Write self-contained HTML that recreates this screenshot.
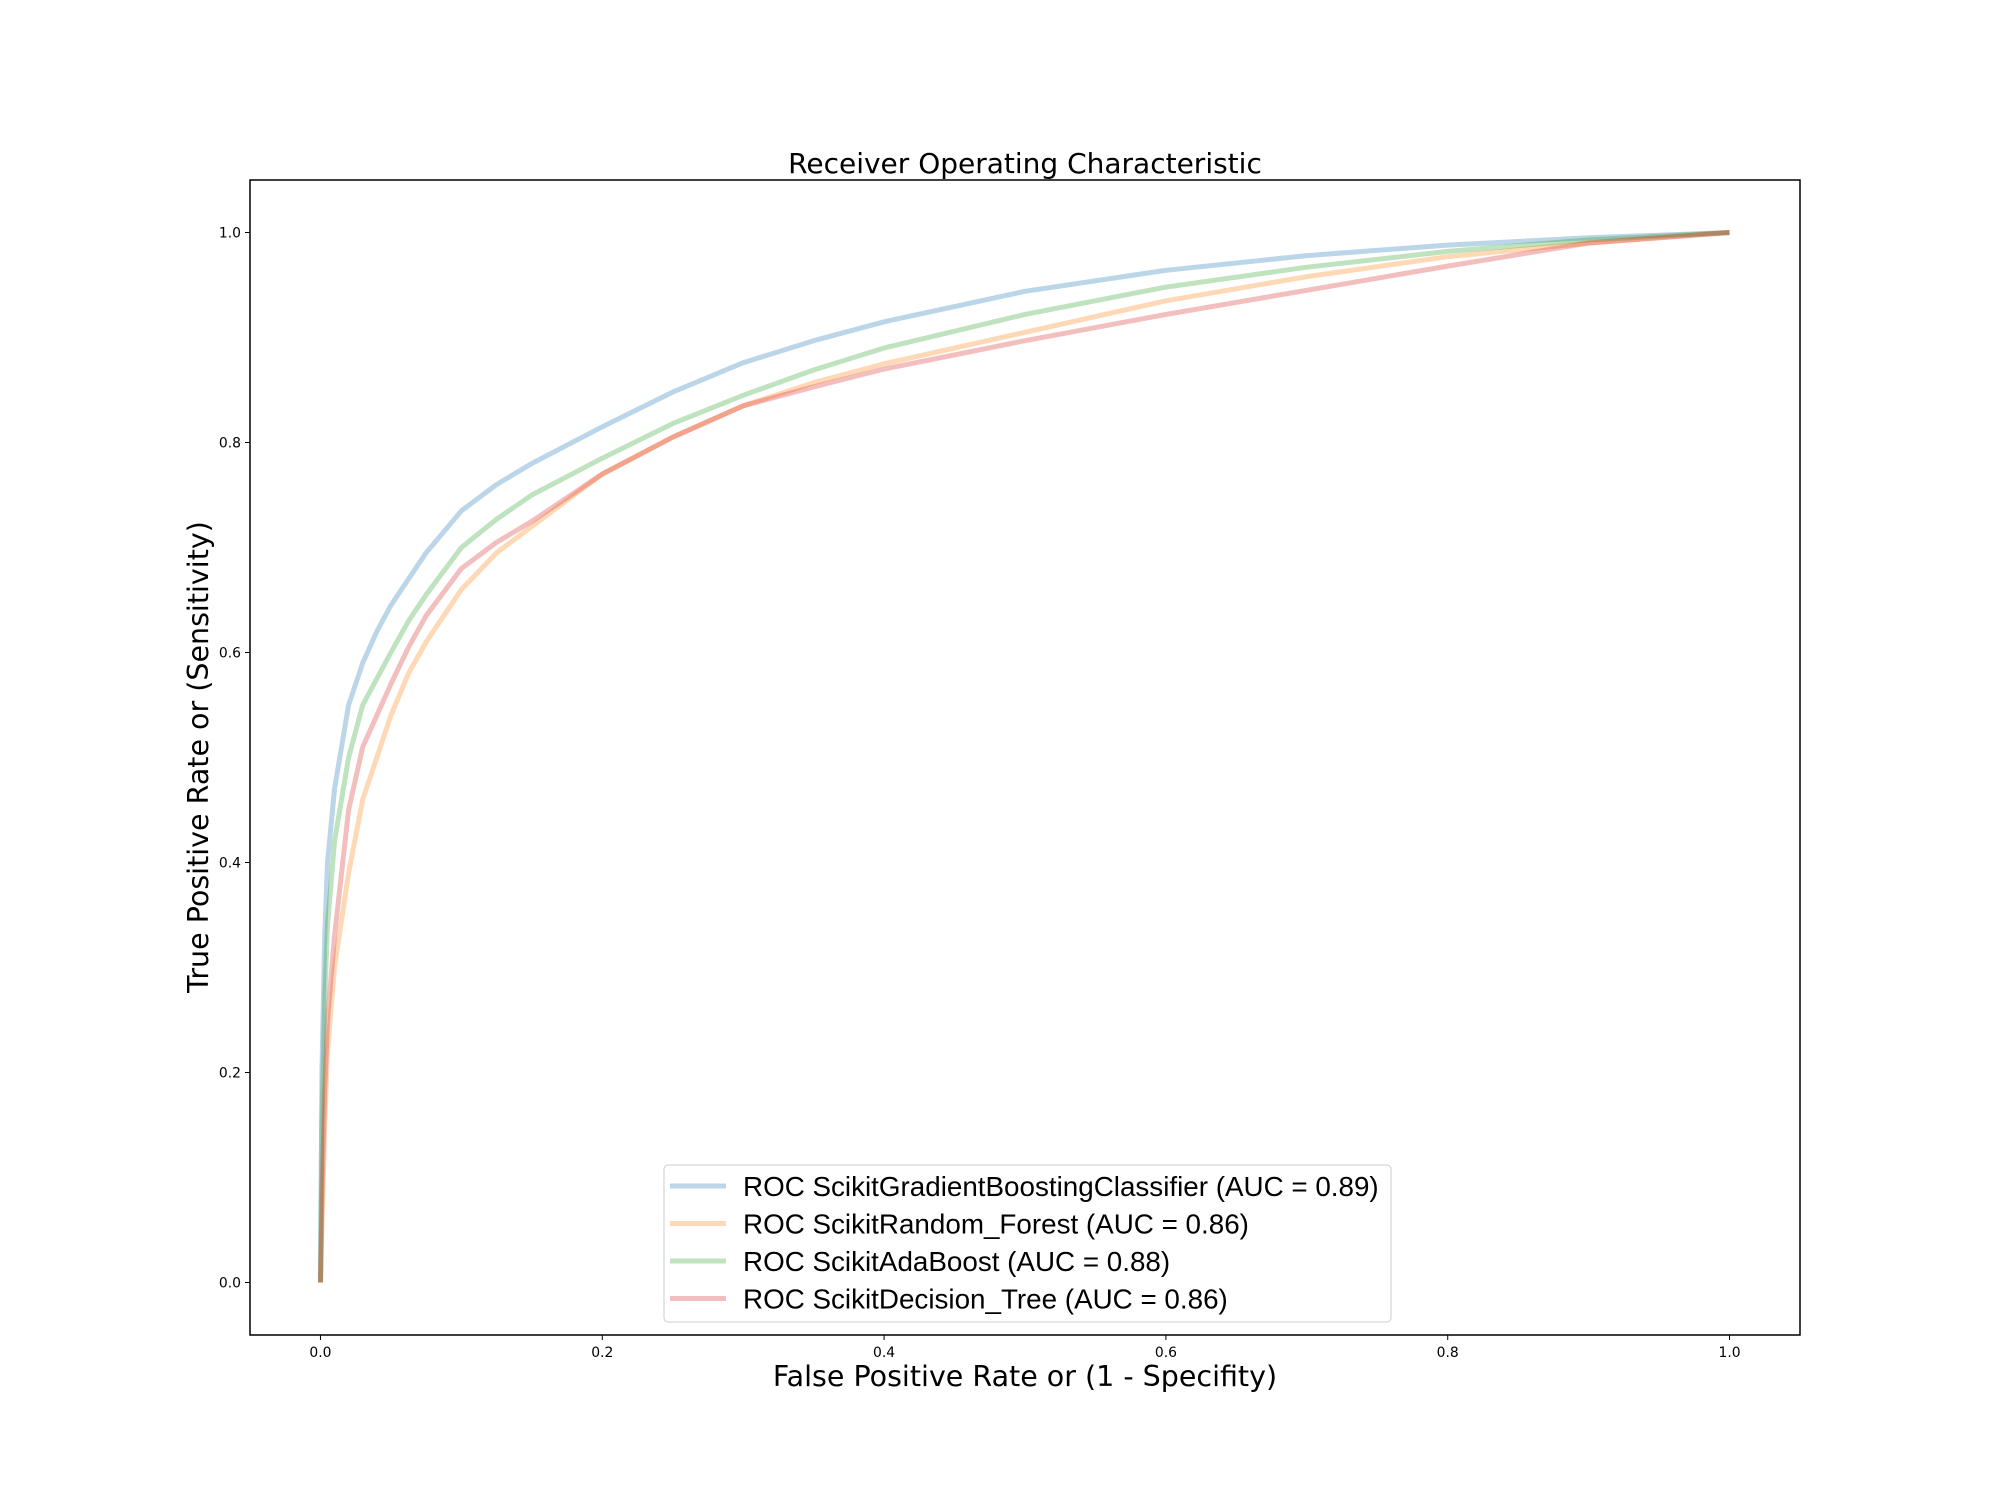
<!DOCTYPE html>
<html><head><meta charset="utf-8"><style>
html,body{margin:0;padding:0;background:#fff}
svg{display:block}
text{font-family:"DejaVu Sans","Liberation Sans",sans-serif;fill:#000}
</style></head><body>
<svg id="chart" width="2000" height="1500" xmlns="http://www.w3.org/2000/svg">
<rect width="2000" height="1500" fill="#fff"/>
<text x="1025" y="173" font-size="28" text-anchor="middle">Receiver Operating Characteristic</text>
<g id="curves"></g>
<rect x="250" y="180" width="1550" height="1155" fill="none" stroke="#000" stroke-width="1.5"/>
<g id="ticks"></g>
<text x="1025" y="1386" font-size="28.5" text-anchor="middle">False Positive Rate or (1 - Specifity)</text>
<text x="0" y="0" font-size="28.5" text-anchor="middle" transform="translate(208,757) rotate(-90)">True Positive Rate or (Sensitivity)</text>
<g id="legend"></g>
</svg>
<script>
const fprGrid = [0,0.001,0.003,0.005,0.01,0.02,0.03,0.04,0.05,0.0625,0.075,0.1,0.125,0.15,0.2,0.25,0.3,0.35,0.4,0.5,0.6,0.7,0.8,0.9,1.0];
const tprGB   = [0,0.2,0.33,0.4,0.47,0.55,0.59,0.62,0.645,0.67,0.695,0.735,0.76,0.78,0.815,0.848,0.876,0.897,0.915,0.944,0.964,0.978,0.988,0.995,1.0];
const tprRF   = [0,0.05,0.15,0.22,0.3,0.39,0.46,0.5,0.54,0.58,0.61,0.66,0.695,0.72,0.77,0.805,0.835,0.857,0.875,0.905,0.935,0.958,0.977,0.99,1.0];
const tprAda  = [0,0.15,0.27,0.34,0.42,0.5,0.55,0.575,0.6,0.63,0.655,0.7,0.727,0.75,0.785,0.818,0.845,0.869,0.89,0.922,0.948,0.967,0.982,0.993,1.0];
const tprDT   = [0,0.08,0.18,0.25,0.33,0.45,0.51,0.54,0.57,0.605,0.635,0.68,0.705,0.725,0.77,0.805,0.835,0.853,0.87,0.897,0.922,0.945,0.968,0.99,1.0];
const seriesNames = ["ROC ScikitGradientBoostingClassifier (AUC = 0.89)","ROC ScikitRandom_Forest (AUC = 0.86)","ROC ScikitAdaBoost (AUC = 0.88)","ROC ScikitDecision_Tree (AUC = 0.86)"];
const xTicks = [0.0,0.2,0.4,0.6,0.8,1.0];
const yTicks = [0.0,0.2,0.4,0.6,0.8,1.0];

const NS="http://www.w3.org/2000/svg";
const L=250,R=1800,T=180,B=1335;
const xs=v=>L+(v+0.05)/1.1*(R-L);
const ys=v=>B-(v+0.05)/1.1*(B-T);
const colors=["#1f77b4","#ff7f0e","#2ca02c","#d62728"];
const series=[tprGB,tprRF,tprAda,tprDT];
const cg=document.getElementById('curves');
series.forEach((s,i)=>{
  const p=document.createElementNS(NS,'path');
  
  
  p.setAttribute('d',s.map((v,j)=>(j?'L':'M')+xs(fprGrid[j]).toFixed(1)+' '+ys(v).toFixed(1)).join(''));
  p.setAttribute('fill','none');p.setAttribute('stroke',colors[i]);
  p.setAttribute('stroke-opacity','0.3');p.setAttribute('stroke-width','5');
  p.setAttribute('stroke-linejoin','round');
  cg.appendChild(p);
});
const tg=document.getElementById('ticks');
xTicks.forEach(v=>{
  const l=document.createElementNS(NS,'line');
  
  
  l.setAttribute('x1',xs(v));l.setAttribute('x2',xs(v));l.setAttribute('y1',B);l.setAttribute('y2',B+5);l.setAttribute('stroke','#000');
  tg.appendChild(l);
  const t=document.createElementNS(NS,'text');
  
  
  t.setAttribute('x',xs(v));t.setAttribute('y',B+22);t.setAttribute('font-size','13.9');t.setAttribute('text-anchor','middle');
  t.textContent=v.toFixed(1);tg.appendChild(t);
});
yTicks.forEach(v=>{
  const l=document.createElementNS(NS,'line');
  
  
  l.setAttribute('x1',L-5);l.setAttribute('x2',L);l.setAttribute('y1',ys(v));l.setAttribute('y2',ys(v));l.setAttribute('stroke','#000');
  tg.appendChild(l);
  const t=document.createElementNS(NS,'text');
  
  
  t.setAttribute('x',L-9);t.setAttribute('y',ys(v)+5);t.setAttribute('font-size','13.9');t.setAttribute('text-anchor','end');
  t.textContent=v.toFixed(1);tg.appendChild(t);
});
const lg=document.getElementById('legend');
const box=document.createElementNS(NS,'rect');


box.setAttribute('x',668);box.setAttribute('y',1179);box.setAttribute('width',734);box.setAttribute('height',157);
box.setAttribute('rx',4);box.setAttribute('fill','#fff');box.setAttribute('fill-opacity','0.8');box.setAttribute('stroke','#ccc');
box.setAttribute('y',1165);box.setAttribute('x',664);box.setAttribute('width',727);
lg.appendChild(box);
seriesNames.forEach((n,i)=>{
  const y=1186+i*37.5;
  const l=document.createElementNS(NS,'line');
  
  
  l.setAttribute('x1',670);l.setAttribute('x2',726);l.setAttribute('y1',y);l.setAttribute('y2',y);
  l.setAttribute('stroke',colors[i]);l.setAttribute('stroke-opacity','0.3');l.setAttribute('stroke-width','5');
  lg.appendChild(l);
  const t=document.createElementNS(NS,'text');
  
  
  t.setAttribute('x',743);t.setAttribute('y',y+10);t.setAttribute('font-size','27.8');
  t.setAttribute('style','font-family:"Liberation Sans",sans-serif');
  t.textContent=n;lg.appendChild(t);
});
</script>
</body></html>
